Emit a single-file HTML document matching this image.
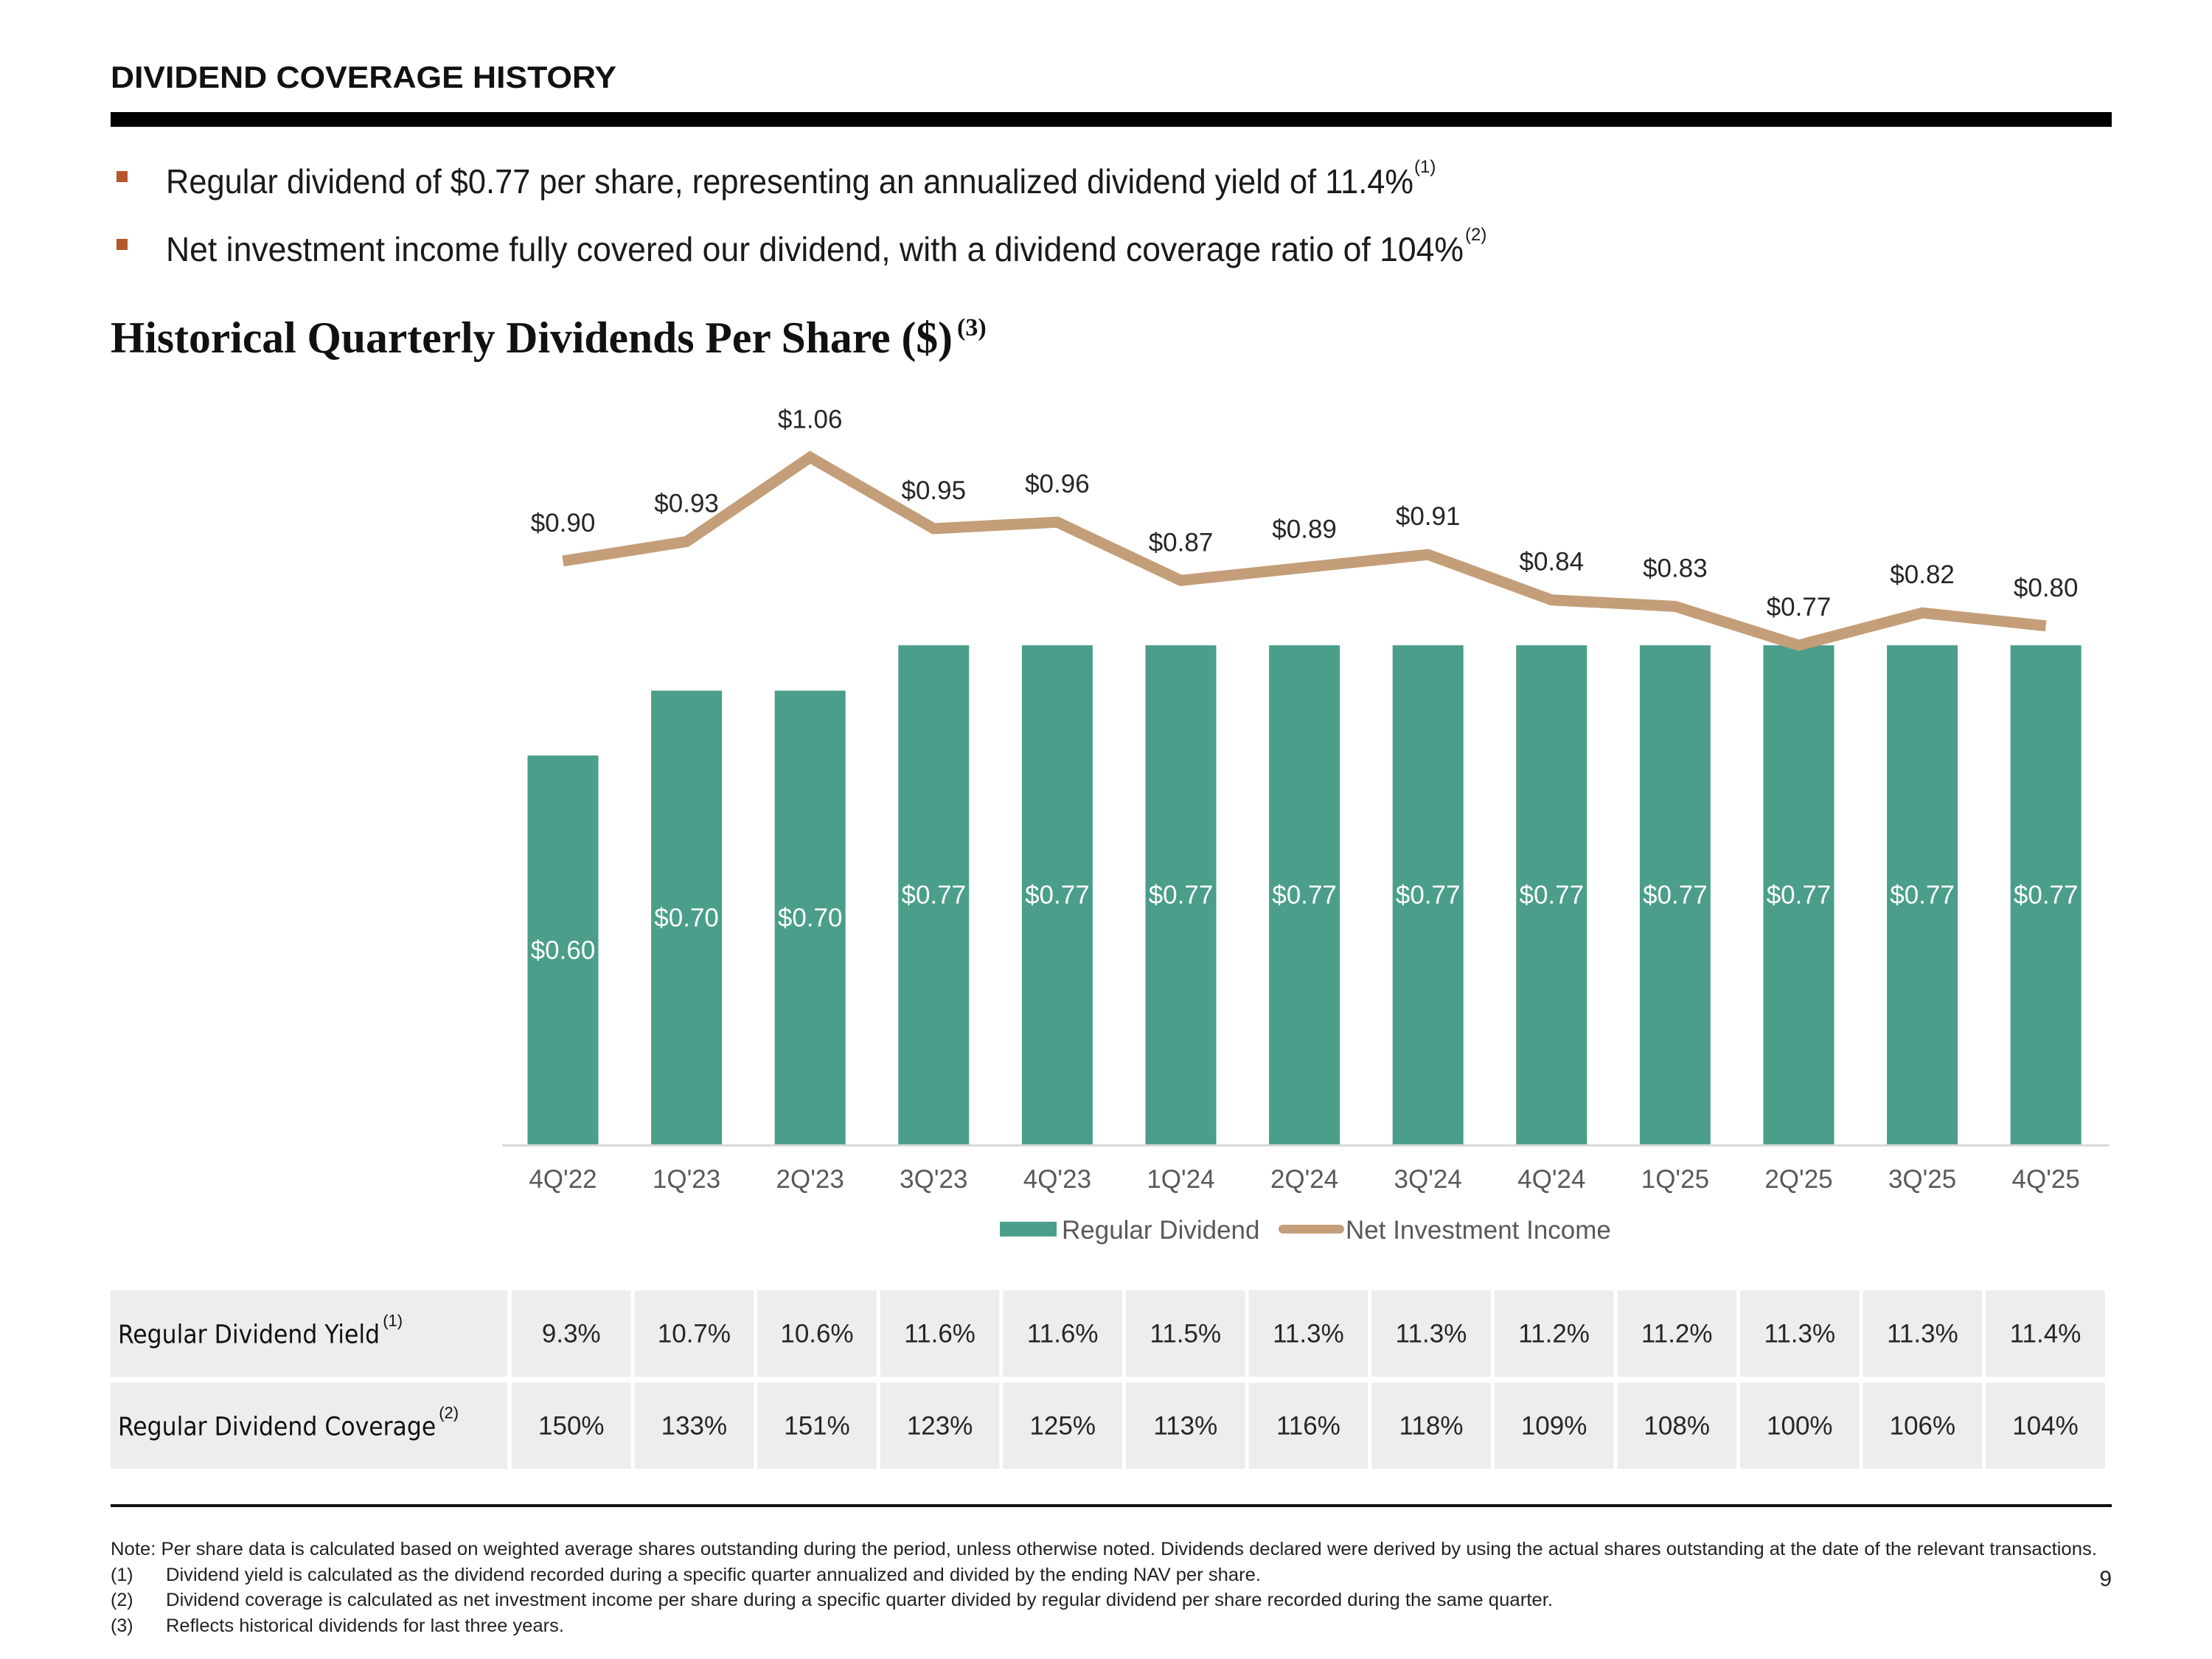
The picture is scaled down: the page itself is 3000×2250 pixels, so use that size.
<!DOCTYPE html>
<html><head><meta charset="utf-8">
<style>
html,body{margin:0;padding:0;background:#fff;}
svg{display:block;}
text{font-family:"Liberation Sans",sans-serif;}
</style></head>
<body>
<svg id="root" width="3000" height="2250" viewBox="0 0 3000 2250" xmlns="http://www.w3.org/2000/svg">
  <text x="150" y="119" font-size="42" font-weight="bold" fill="#111" textLength="686" lengthAdjust="spacingAndGlyphs">DIVIDEND COVERAGE HISTORY</text>
  <rect x="150" y="152" width="2714" height="20" fill="#000"/>

  <rect x="158" y="232" width="15" height="15" fill="#B5562B"/>
  <text x="225" y="262" font-size="46" fill="#1a1a1a" textLength="1692" lengthAdjust="spacingAndGlyphs">Regular dividend of $0.77 per share, representing an annualized dividend yield of 11.4%</text>
  <text x="1918" y="234" font-size="24" fill="#1a1a1a">(1)</text>
  <rect x="158" y="324" width="15" height="15" fill="#B5562B"/>
  <text x="225" y="354" font-size="46" fill="#1a1a1a" textLength="1760" lengthAdjust="spacingAndGlyphs">Net investment income fully covered our dividend, with a dividend coverage ratio of 104%</text>
  <text x="1987" y="326" font-size="24" fill="#1a1a1a">(2)</text>

  <text x="150" y="478" font-size="60" font-weight="bold" fill="#111" style="font-family:'Liberation Serif',serif" textLength="1142" lengthAdjust="spacingAndGlyphs">Historical Quarterly Dividends Per Share ($)</text>
  <text x="1298" y="455" font-size="34" font-weight="bold" fill="#111" style="font-family:'Liberation Serif',serif">(3)</text>

  <g id="chart"></g>
  <g id="table"></g>

  <rect x="150" y="2040" width="2714" height="4" fill="#111"/>
  <g fill="#222" font-size="25">
    <text x="150" y="2109" textLength="2694" lengthAdjust="spacingAndGlyphs">Note: Per share data is calculated based on weighted average shares outstanding during the period, unless otherwise noted. Dividends declared were derived by using the actual shares outstanding at the date of the relevant transactions.</text>
    <text x="150" y="2144">(1)</text>
    <text x="225" y="2144" textLength="1485" lengthAdjust="spacingAndGlyphs">Dividend yield is calculated as the dividend recorded during a specific quarter annualized and divided by the ending NAV per share.</text>
    <text x="150" y="2178">(2)</text>
    <text x="225" y="2178" textLength="1881" lengthAdjust="spacingAndGlyphs">Dividend coverage is calculated as net investment income per share during a specific quarter divided by regular dividend per share recorded during the same quarter.</text>
    <text x="150" y="2213">(3)</text>
    <text x="225" y="2213" textLength="540" lengthAdjust="spacingAndGlyphs">Reflects historical dividends for last three years.</text>
  </g>
  <text x="2864" y="2151" font-size="30" fill="#222" text-anchor="end">9</text>
</svg>
<script>
const categories = ["4Q'22","1Q'23","2Q'23","3Q'23","4Q'23","1Q'24","2Q'24","3Q'24","4Q'24","1Q'25","2Q'25","3Q'25","4Q'25"];
const regularDividend = [0.60,0.70,0.70,0.77,0.77,0.77,0.77,0.77,0.77,0.77,0.77,0.77,0.77];
const netInvestmentIncome = [0.90,0.93,1.06,0.95,0.96,0.87,0.89,0.91,0.84,0.83,0.77,0.82,0.80];
const yieldLabels = ["9.3%","10.7%","10.6%","11.6%","11.6%","11.5%","11.3%","11.3%","11.2%","11.2%","11.3%","11.3%","11.4%"];
const coverageLabels = ["150%","133%","151%","123%","125%","113%","116%","118%","109%","108%","100%","106%","104%"];

const NS="http://www.w3.org/2000/svg";
function mk(tag, attrs, parent, txt){const e=document.createElementNS(NS,tag);for(const k in attrs)e.setAttribute(k,attrs[k]);if(txt!==undefined)e.textContent=txt;parent.appendChild(e);return e;}
const chart=document.getElementById('chart');
const baseY=1552, pxPerDollar=879, x0=763.5, step=167.6, barW=96;
const xS=i=>x0+i*step;
const yS=v=>baseY-v*pxPerDollar;

// bars
regularDividend.forEach((v,i)=>{
  const r=mk('rect',{x:xS(i)-barW/2,y:yS(v),width:barW,height:baseY-yS(v),fill:'#4A9E8A'},chart);
  
  
  const t=mk('text',{x:xS(i),y:(yS(v)+baseY)/2+12,'font-size':35,fill:'#fff','text-anchor':'middle'},chart,'$'+v.toFixed(2));
  
  
});
// axis
const ax=mk('rect',{x:681,y:baseY,width:2179,height:3,fill:'#d9d9d9'},chart);


categories.forEach((c,i)=>{
  const t=mk('text',{x:xS(i),y:1611,'font-size':35,fill:'#595959','text-anchor':'middle'},chart,c);
  
  
});
// line
const pts=netInvestmentIncome.map((v,i)=>xS(i)+','+yS(v)).join(' ');
const pl=mk('polyline',{points:pts,fill:'none',stroke:'#C49E78','stroke-width':15,'stroke-linejoin':'miter'},chart);


netInvestmentIncome.forEach((v,i)=>{
  const t=mk('text',{x:xS(i),y:yS(v)-40,'font-size':35,fill:'#262626','text-anchor':'middle'},chart,'$'+v.toFixed(2));
  
  
});
// legend
const lg=mk('g',{},chart);


const l1=mk('rect',{x:1356,y:1657,width:77,height:20,fill:'#4A9E8A'},lg);


const l1t=mk('text',{x:1440,y:1680,'font-size':35,fill:'#595959'},lg,'Regular Dividend');


const l2=mk('line',{x1:1740,y1:1667,x2:1817,y2:1667,stroke:'#C49E78','stroke-width':12,'stroke-linecap':'round'},lg);


const l2t=mk('text',{x:1825,y:1680,'font-size':35,fill:'#595959'},lg,'Net Investment Income');



// table
const tb=document.getElementById('table');
const rows=[{label:'Regular Dividend Yield',sup:'(1)',vals:yieldLabels,y:1750},{label:'Regular Dividend Coverage',sup:'(2)',vals:coverageLabels,y:1875}];
const rowH=117, cellX0=694, cellW=166.6;
rows.forEach((r,ri)=>{
  const hc=mk('rect',{x:150,y:r.y,width:538,height:rowH,fill:'#EDEDED'},tb);
  
  
  const lt=mk('text',{x:160,y:r.y+rowH/2+13,'font-size':35,fill:'#111',style:'font-family:"DejaVu Sans Condensed","DejaVu Sans",sans-serif'},tb,r.label);
  
  
  const bb=lt.getBBox();
  const st=mk('text',{x:bb.x+bb.width+4,y:r.y+rowH/2-10,'font-size':22,fill:'#111'},tb,r.sup);
  
  
  r.vals.forEach((v,i)=>{
    const c=mk('rect',{x:cellX0+i*cellW,y:r.y,width:cellW-5,height:rowH,fill:'#EDEDED'},tb);
    
    
    const t=mk('text',{x:cellX0+i*cellW+(cellW-5)/2,y:r.y+rowH/2+12,'font-size':35,fill:'#262626','text-anchor':'middle'},tb,v);
    
    
  });
});
</script>
</body></html>
